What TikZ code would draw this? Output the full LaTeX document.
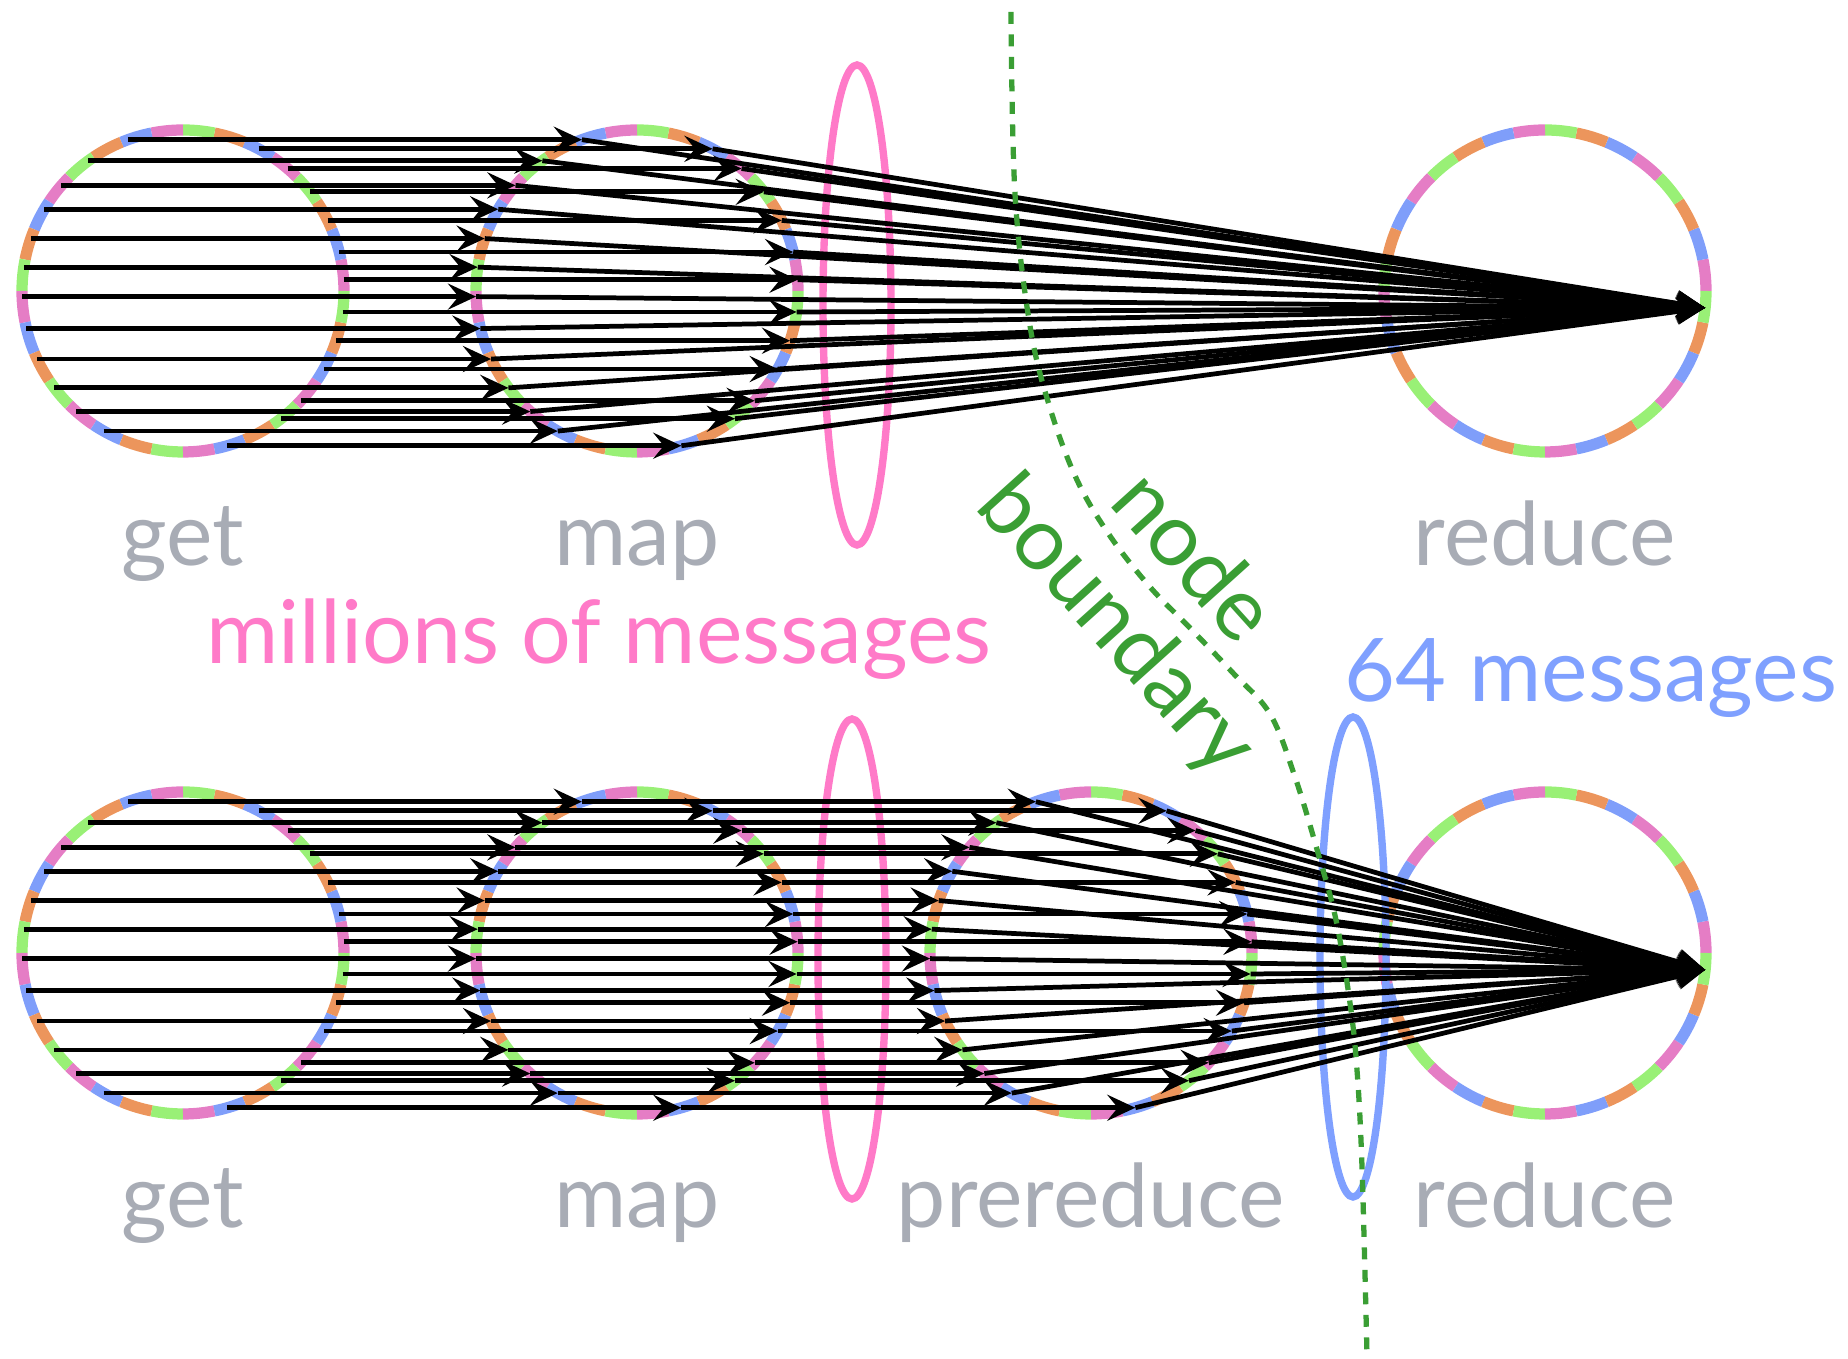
\documentclass[tikz,border=0pt]{standalone}
\usepackage{fontspec}
\setmainfont{Lato}
\usetikzlibrary{arrows.meta,calc}

\definecolor{ring0}{RGB}{153,240,118}
\definecolor{ring1}{RGB}{236,149,92}
\definecolor{ring2}{RGB}{127,158,250}
\definecolor{ring3}{RGB}{229,125,197}
\definecolor{stagegray}{RGB}{168,172,181}
\definecolor{manypink}{RGB}{255,122,200}
\definecolor{fewblue}{RGB}{127,160,255}
\definecolor{edgegreen}{RGB}{58,158,52}

\tikzset{
	msg/.style={line width=1.35pt, -{Stealth[length=8pt, width=7.4pt, inset=3pt]}},
	stage/.style={anchor=base, text=stagegray, font=\fontsize{25}{30}\selectfont},
	batch/.style={line width=2.1pt},
}

% ring of 32 coloured slots round a stage centre
\newcommand{\slotring}[1]{%
	\foreach \j in {0,...,31} {
		\pgfmathtruncatemacro{\c}{mod(35-\j,4)}
		\draw[ring\c, line width=3.2pt] ($(#1)+(11.25*\j:161)$) arc[start angle=11.25*\j, delta angle=11.25, radius=161];
	}}

% where the 24 keys sit on every ring
\newcommand{\keyangles}{110,126,139,149.5,161,171.5,182,193.5,205,217,228.5,240.5,62,49.5,38,26,14,4,-7.5,-18,-29,-43,-52.5,-74}

\begin{document}
\begin{tikzpicture}[x=0.1mm, y=0.1mm]
	\useasboundingbox (0,0) rectangle (1848,1359);
	\coordinate (get1) at (183,1068);
	\coordinate (map1) at (637,1068);
	\coordinate (red1) at (1545,1068);
	\coordinate (get2) at (183,406);
	\coordinate (map2) at (637,406);
	\coordinate (pre2) at (1091,406);
	\coordinate (red2) at (1545,406);
	\foreach \s in {get1,map1,red1,get2,map2,pre2,red2} \slotring{\s};
	\foreach \a [count=\i] in \keyangles {
		\foreach \s in {get1,map1,get2,map2,pre2}
			\coordinate (\s-\i) at ($(\s)+(\a:161)$);
	}
	\coordinate (red1-in) at ($(red1)+(-6:161)$);
	\coordinate (red2-in) at ($(red2)+(-6:161)$);
	\draw[manypink, batch] (857,1054) ellipse[x radius=34, y radius=240];
	\draw[manypink, batch] (852,400) ellipse[x radius=34, y radius=240];
	\draw[fewblue, batch] (1353,402) ellipse[x radius=33, y radius=240];
	\foreach \i in {1,...,24} {
		\draw[msg] (get1-\i) -- (map1-\i);
		\draw[msg] (map1-\i) -- (red1-in);
		\draw[msg] (get2-\i) -- (map2-\i);
		\draw[msg] (map2-\i) -- (pre2-\i);
		\draw[msg] (pre2-\i) -- (red2-in);
	}
	% the node boundary
	\draw[edgegreen, line width=1.5pt, dash pattern=on 3.4pt off 3pt] plot[smooth, tension=0.6] coordinates {(1011,1347) (1015,1165) (1030,1033) (1050,951) (1077,879) (1110,823) (1150,772) (1190,731) (1233,686) (1270,645) (1295,582) (1318,506) (1336,439) (1350,356) (1357,289) (1362,192) (1367,4)};
	\node[stage] (get1-l) at (183,793) {get};
	\node[stage] (map1-l) at (637,793) {map};
	\node[stage] (red1-l) at (1545,793) {reduce};
	\node[stage] (get2-l) at (183,131) {get};
	\node[stage] (map2-l) at (637,131) {map};
	\node[stage] (pre2-l) at (1091,131) {prereduce};
	\node[stage] (red2-l) at (1545,131) {reduce};
	\node[anchor=base, text=manypink, font=\fontsize{25}{30}\selectfont] (many) at (599,695) {millions of messages};
	\node[anchor=base, text=fewblue, font=\fontsize{25}{30}\selectfont] (few) at (1591,657) {64 messages};
	\node[text=edgegreen, rotate=-48, align=center, font=\fontsize{25}{29}\selectfont] (bound) at (1153,766) {node\\boundary};
\end{tikzpicture}
\end{document}
